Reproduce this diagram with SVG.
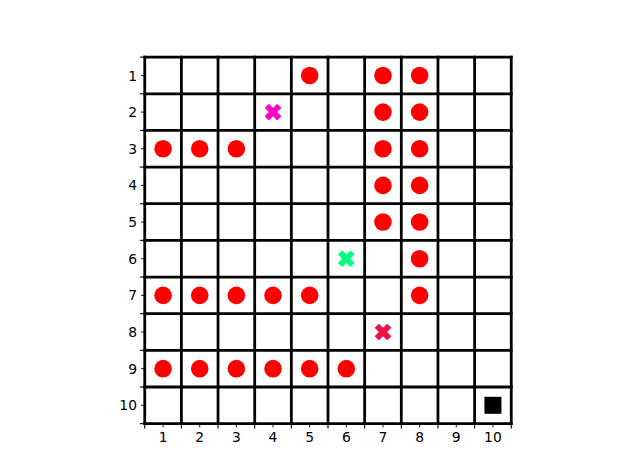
<svg xmlns="http://www.w3.org/2000/svg" xmlns:xlink="http://www.w3.org/1999/xlink" width="640" height="476" viewBox="0 0 640 476">
<style>
.grid line{stroke:#000;stroke-width:2.78;stroke-linecap:square}
.tk line{stroke:#000}
.maj{stroke-width:1.1}
.min{stroke-width:0.9}
.lbl{font-family:"DejaVu Sans",sans-serif;font-size:13.89px;fill:#000}
.dot{fill:#ff0000}
</style>
<defs>
<circle id="o" r="8.8" class="dot"/>
<path id="X" d="M-4.17,-8.33 L0,-4.17 L4.17,-8.33 L8.33,-4.17 L4.17,0 L8.33,4.17 L4.17,8.33 L0,4.17 L-4.17,8.33 L-8.33,4.17 L-4.17,0 L-8.33,-4.17 Z"/>
</defs>
<rect width="640" height="476" fill="#fff"/>
<g id="ticks" class="tk">
<g class="maj">
<line x1="144.74" y1="423.64" x2="144.74" y2="428.5"/><line x1="181.39" y1="423.64" x2="181.39" y2="428.5"/><line x1="218.04" y1="423.64" x2="218.04" y2="428.5"/><line x1="254.70" y1="423.64" x2="254.70" y2="428.5"/><line x1="291.35" y1="423.64" x2="291.35" y2="428.5"/><line x1="328.00" y1="423.64" x2="328.00" y2="428.5"/><line x1="364.65" y1="423.64" x2="364.65" y2="428.5"/><line x1="401.30" y1="423.64" x2="401.30" y2="428.5"/><line x1="437.96" y1="423.64" x2="437.96" y2="428.5"/><line x1="474.61" y1="423.64" x2="474.61" y2="428.5"/><line x1="511.26" y1="423.64" x2="511.26" y2="428.5"/>
<line x1="139.88" y1="57.12" x2="144.74" y2="57.12"/><line x1="139.88" y1="93.77" x2="144.74" y2="93.77"/><line x1="139.88" y1="130.42" x2="144.74" y2="130.42"/><line x1="139.88" y1="167.08" x2="144.74" y2="167.08"/><line x1="139.88" y1="203.73" x2="144.74" y2="203.73"/><line x1="139.88" y1="240.38" x2="144.74" y2="240.38"/><line x1="139.88" y1="277.03" x2="144.74" y2="277.03"/><line x1="139.88" y1="313.68" x2="144.74" y2="313.68"/><line x1="139.88" y1="350.34" x2="144.74" y2="350.34"/><line x1="139.88" y1="386.99" x2="144.74" y2="386.99"/><line x1="139.88" y1="423.64" x2="144.74" y2="423.64"/>
</g>
<g class="min">
<line x1="163.07" y1="423.64" x2="163.07" y2="427.4"/><line x1="199.72" y1="423.64" x2="199.72" y2="427.4"/><line x1="236.37" y1="423.64" x2="236.37" y2="427.4"/><line x1="273.02" y1="423.64" x2="273.02" y2="427.4"/><line x1="309.67" y1="423.64" x2="309.67" y2="427.4"/><line x1="346.33" y1="423.64" x2="346.33" y2="427.4"/><line x1="382.98" y1="423.64" x2="382.98" y2="427.4"/><line x1="419.63" y1="423.64" x2="419.63" y2="427.4"/><line x1="456.28" y1="423.64" x2="456.28" y2="427.4"/><line x1="492.93" y1="423.64" x2="492.93" y2="427.4"/>
<line x1="141" y1="75.45" x2="144.74" y2="75.45"/><line x1="141" y1="112.10" x2="144.74" y2="112.10"/><line x1="141" y1="148.75" x2="144.74" y2="148.75"/><line x1="141" y1="185.40" x2="144.74" y2="185.40"/><line x1="141" y1="222.05" x2="144.74" y2="222.05"/><line x1="141" y1="258.71" x2="144.74" y2="258.71"/><line x1="141" y1="295.36" x2="144.74" y2="295.36"/><line x1="141" y1="332.01" x2="144.74" y2="332.01"/><line x1="141" y1="368.66" x2="144.74" y2="368.66"/><line x1="141" y1="405.31" x2="144.74" y2="405.31"/>
</g>
</g>
<g id="xlabels" class="lbl" text-anchor="middle">
<text x="163.07" y="442">1</text><text x="199.72" y="442">2</text><text x="236.37" y="442">3</text><text x="273.02" y="442">4</text><text x="309.67" y="442">5</text><text x="346.33" y="442">6</text><text x="382.98" y="442">7</text><text x="419.63" y="442">8</text><text x="456.28" y="442">9</text><text x="492.93" y="442">10</text>
</g>
<g id="ylabels" class="lbl" text-anchor="end">
<text x="137" y="80.5">1</text><text x="137" y="117.1">2</text><text x="137" y="153.8">3</text><text x="137" y="190.4">4</text><text x="137" y="227.1">5</text><text x="137" y="263.7">6</text><text x="137" y="300.4">7</text><text x="137" y="337">8</text><text x="137" y="373.7">9</text><text x="137" y="410.3">10</text>
</g>
<g id="grid" class="grid">
<line x1="144.74" y1="57.12" x2="144.74" y2="423.64"/><line x1="181.39" y1="57.12" x2="181.39" y2="423.64"/><line x1="218.04" y1="57.12" x2="218.04" y2="423.64"/><line x1="254.70" y1="57.12" x2="254.70" y2="423.64"/><line x1="291.35" y1="57.12" x2="291.35" y2="423.64"/><line x1="328.00" y1="57.12" x2="328.00" y2="423.64"/><line x1="364.65" y1="57.12" x2="364.65" y2="423.64"/><line x1="401.30" y1="57.12" x2="401.30" y2="423.64"/><line x1="437.96" y1="57.12" x2="437.96" y2="423.64"/><line x1="474.61" y1="57.12" x2="474.61" y2="423.64"/><line x1="511.26" y1="57.12" x2="511.26" y2="423.64"/>
<line x1="144.74" y1="57.12" x2="511.26" y2="57.12"/><line x1="144.74" y1="93.77" x2="511.26" y2="93.77"/><line x1="144.74" y1="130.42" x2="511.26" y2="130.42"/><line x1="144.74" y1="167.08" x2="511.26" y2="167.08"/><line x1="144.74" y1="203.73" x2="511.26" y2="203.73"/><line x1="144.74" y1="240.38" x2="511.26" y2="240.38"/><line x1="144.74" y1="277.03" x2="511.26" y2="277.03"/><line x1="144.74" y1="313.68" x2="511.26" y2="313.68"/><line x1="144.74" y1="350.34" x2="511.26" y2="350.34"/><line x1="144.74" y1="386.99" x2="511.26" y2="386.99"/><line x1="144.74" y1="423.64" x2="511.26" y2="423.64"/>
</g>
<g id="obstacles">
<use xlink:href="#o" x="309.67" y="75.45"/><use xlink:href="#o" x="382.98" y="75.45"/><use xlink:href="#o" x="419.63" y="75.45"/>
<use xlink:href="#o" x="382.98" y="112.10"/><use xlink:href="#o" x="419.63" y="112.10"/>
<use xlink:href="#o" x="163.07" y="148.75"/><use xlink:href="#o" x="199.72" y="148.75"/><use xlink:href="#o" x="236.37" y="148.75"/><use xlink:href="#o" x="382.98" y="148.75"/><use xlink:href="#o" x="419.63" y="148.75"/>
<use xlink:href="#o" x="382.98" y="185.40"/><use xlink:href="#o" x="419.63" y="185.40"/>
<use xlink:href="#o" x="382.98" y="222.05"/><use xlink:href="#o" x="419.63" y="222.05"/>
<use xlink:href="#o" x="419.63" y="258.71"/>
<use xlink:href="#o" x="163.07" y="295.36"/><use xlink:href="#o" x="199.72" y="295.36"/><use xlink:href="#o" x="236.37" y="295.36"/><use xlink:href="#o" x="273.02" y="295.36"/><use xlink:href="#o" x="309.67" y="295.36"/><use xlink:href="#o" x="419.63" y="295.36"/>
<use xlink:href="#o" x="163.07" y="368.66"/><use xlink:href="#o" x="199.72" y="368.66"/><use xlink:href="#o" x="236.37" y="368.66"/><use xlink:href="#o" x="273.02" y="368.66"/><use xlink:href="#o" x="309.67" y="368.66"/><use xlink:href="#o" x="346.33" y="368.66"/>
</g>
<g id="agent-magenta"><use xlink:href="#X" x="273.02" y="112.10" fill="#ff00cc"/></g>
<g id="agent-green"><use xlink:href="#X" x="346.33" y="258.71" fill="#00ff80"/></g>
<g id="agent-crimson"><use xlink:href="#X" x="382.98" y="332.01" fill="#ee1144"/></g>
<g id="goal"><rect x="484.43" y="396.81" width="17" height="17" fill="#000"/></g>
</svg>
